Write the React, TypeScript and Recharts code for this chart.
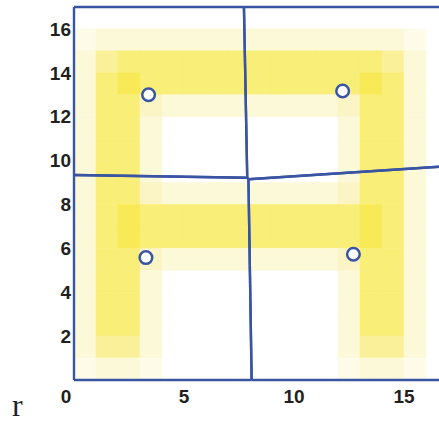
import { ComposedChart, XAxis, YAxis, Scatter, ReferenceArea, ReferenceLine } from "recharts"

// intensity level per cell, top row (y = 15..16) first, column x = 0..15
const CELL_ROWS = [
  "1222222222222221",
  "2455555555555542",
  "2565555555555652",
  "2553222222223552",
  "2552000000002552",
  "2552000000002552",
  "2552000000002552",
  "2553222222223552",
  "2565555555555652",
  "2565555555555652",
  "2553222222223552",
  "2552000000002552",
  "2552000000002552",
  "2552000000002552",
  "2442000000002442",
  "1221000000001221",
]

const LEVEL_COLORS = ["#ffffff", "#fefce9", "#fcf9d8", "#fbf4c4", "#fbf09a", "#f9ee77", "#f8e957"]

const SITE_X = [3.39, 12.21, 3.27, 12.7]
const SITE_Y = [13.0, 13.17, 5.58, 5.73]

const X_TICKS = [0, 5, 10, 15]
const Y_TICKS = [2, 4, 6, 8, 10, 12, 14, 16]

const BLUE = "#3a54a4"
const TEXT = "#231f20"
const MAX = 17

interface Pt {
  x: number
  y: number
}

// keep the part of poly that is closer to a than to b
function clipHalf(poly: Pt[], a: Pt, b: Pt): Pt[] {
  const mx = (a.x + b.x) / 2
  const my = (a.y + b.y) / 2
  const nx = b.x - a.x
  const ny = b.y - a.y
  const f = (p: Pt) => (p.x - mx) * nx + (p.y - my) * ny
  const out: Pt[] = []
  for (let i = 0; i < poly.length; i++) {
    const cur = poly[i]
    const nxt = poly[(i + 1) % poly.length]
    const fc = f(cur)
    const fn = f(nxt)
    if (fc <= 0) out.push(cur)
    if (fc <= 0 !== fn <= 0) {
      const t = fc / (fc - fn)
      out.push({ x: cur.x + t * (nxt.x - cur.x), y: cur.y + t * (nxt.y - cur.y) })
    }
  }
  return out
}

const sites: Pt[] = SITE_X.map((x, i) => ({ x, y: SITE_Y[i] }))

const voronoiEdges: [Pt, Pt][] = []
sites.forEach((s, i) => {
  let poly: Pt[] = [
    { x: 0, y: 0 },
    { x: MAX, y: 0 },
    { x: MAX, y: MAX },
    { x: 0, y: MAX },
  ]
  sites.forEach((o, j) => {
    if (i !== j) poly = clipHalf(poly, s, o)
  })
  poly.forEach((p, k) => voronoiEdges.push([p, poly[(k + 1) % poly.length]]))
})

const cells: { x: number; y: number; color: string }[] = []
CELL_ROWS.forEach((row, r) => {
  row.split("").forEach((ch, c) => {
    const level = Number(ch)
    if (level > 0) cells.push({ x: c, y: CELL_ROWS.length - 1 - r, color: LEVEL_COLORS[level] })
  })
})

const XTick = ({ x, y, payload }: any) => (
  <text
    x={x + (payload.value === 0 ? -8 : 0)}
    y={y}
    dy="0.71em"
    textAnchor="middle"
    fill={TEXT}
    fontSize={19}
    fontWeight="bold"
    fontFamily="Liberation Sans, Arial, sans-serif"
  >
    {payload.value}
  </text>
)

export default function App() {
  return (
    <div style={{ position: "absolute", left: 0, top: 0, width: 439, height: 423, overflow: "hidden", background: "#fff" }}>
      <ComposedChart width={460} height={423} margin={{ top: 7, right: 12, left: 0, bottom: 0 }}>
        <XAxis
          type="number"
          dataKey="x"
          domain={[0, MAX]}
          ticks={X_TICKS}
          allowDataOverflow
          height={43}
          axisLine={false}
          tickLine={false}
          tickSize={0}
          tickMargin={10}
          tick={<XTick />}
        />
        <YAxis
          type="number"
          dataKey="y"
          domain={[0, MAX]}
          ticks={Y_TICKS}
          allowDataOverflow
          width={74}
          axisLine={false}
          tickLine={false}
          tickSize={0}
          tickMargin={3}
          tick={{ fill: TEXT, fontSize: 19, fontWeight: "bold", fontFamily: "Liberation Sans, Arial, sans-serif" }}
        />
        {cells.map((cell, i) => (
          <ReferenceArea
            key={`cell-${i}`}
            x1={cell.x}
            x2={cell.x + 1}
            y1={cell.y}
            y2={cell.y + 1}
            fill={cell.color}
            fillOpacity={1}
            stroke={cell.color}
            strokeWidth={0.6}
            ifOverflow="visible"
          />
        ))}
        {voronoiEdges.map((e, i) => (
          <ReferenceLine
            key={`edge-${i}`}
            segment={[e[0], e[1]]}
            stroke={BLUE}
            strokeWidth={2.4}
            ifOverflow="visible"
          />
        ))}
        <Scatter
          data={sites}
          isAnimationActive={false}
          shape={(p: any) => <circle cx={p.cx} cy={p.cy} r={6.3} fill="#fff" stroke={BLUE} strokeWidth={2.5} />}
        />
      </ComposedChart>
      <svg width={439} height={423} style={{ position: "absolute", left: 0, top: 0, pointerEvents: "none" }}>
        <text x={12} y={416} fontFamily="Liberation Serif, serif" fontSize={32} fill={TEXT}>
          r
        </text>
      </svg>
    </div>
  )
}
